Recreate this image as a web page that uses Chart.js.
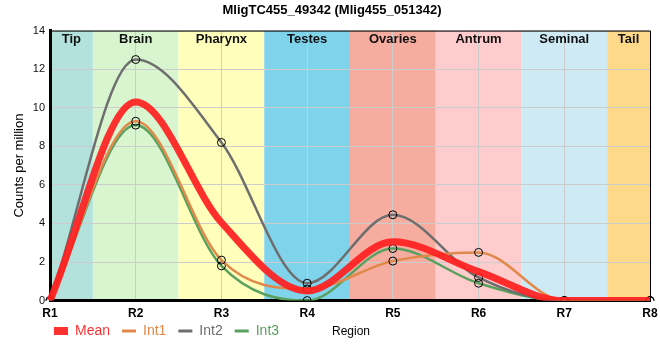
<!DOCTYPE html>
<html>
<head>
<meta charset="utf-8">
<script src="https://cdn.jsdelivr.net/npm/chart.js@4.4.1/dist/chart.umd.min.js"></script>
<style>
  body { margin: 0; background: #fff; }
  #wrap { width: 660px; height: 360px; }
</style>
</head>
<body>
<div id="wrap"><canvas id="myChart"></canvas></div>
<script>
// values
const regions = ['R1', 'R2', 'R3', 'R4', 'R5', 'R6', 'R7', 'R8'];
const bandNames = ['Tip', 'Brain', 'Pharynx', 'Testes', 'Ovaries', 'Antrum', 'Seminal', 'Tail'];
const bandColors = ['#b3e2dd', '#d8f5d0', '#ffffbb', '#7fd3eb', '#f6ada0', '#fecccc', '#ceebf5', '#fed98a'];

const meanVals = [0, 10.3, 4.05, 0.5, 3.05, 1.5, 0, 0];
const int1Vals = [0, 9.3, 2.1, 0.6, 2.05, 2.5, 0, 0];
const int2Vals = [0, 12.5, 8.2, 0.9, 4.45, 1.2, 0, 0];
const int3Vals = [0, 9.1, 1.8, 0, 2.7, 0.9, 0, 0];

const yTicks = [0, 2, 4, 6, 8, 10, 12, 14];

const FONT = 'Arial, "Liberation Sans", sans-serif';

// coloured region bands behind the plot
const bandsPlugin = {
  id: 'bands',
  afterLayout(chart) {
    // legend row sits on the x axis title line, starting under the plot
    const lg = chart.legend;
    lg.left = chart.chartArea.left - 8;
    lg.top -= 15;
    lg.bottom -= 15;
  },
  beforeDraw(chart) {
    const { ctx, chartArea } = chart;
    const x = chart.scales.x;
    ctx.save();
    bandNames.forEach((name, i) => {
      let l = Math.max(chartArea.left, x.getPixelForValue(i - 0.5));
      let r = Math.min(chartArea.right, x.getPixelForValue(i + 0.5));
      ctx.fillStyle = bandColors[i];
      ctx.fillRect(l, chartArea.top, r - l, chartArea.bottom - chartArea.top);
    });
    ctx.restore();
  },
  beforeDatasetsDraw(chart) {
    const { ctx, chartArea } = chart;
    const x = chart.scales.x;
    ctx.save();
    ctx.font = 'bold 13px ' + FONT;
    ctx.fillStyle = '#111';
    ctx.textAlign = 'center';
    ctx.textBaseline = 'top';
    bandNames.forEach((name, i) => {
      let l = Math.max(chartArea.left, x.getPixelForValue(i - 0.5));
      let r = Math.min(chartArea.right, x.getPixelForValue(i + 0.5));
      ctx.fillText(name, (l + r) / 2, chartArea.top + 2);
    });
    // thin frame top and right
    ctx.strokeStyle = '#000';
    ctx.lineWidth = 1;
    ctx.beginPath();
    ctx.moveTo(chartArea.left, chartArea.top + 0.5);
    ctx.lineTo(chartArea.right + 0.5, chartArea.top + 0.5);
    ctx.lineTo(chartArea.right + 0.5, chartArea.bottom);
    ctx.stroke();
    ctx.restore();
  },
  afterDraw(chart) {
    // x axis title
    const { ctx, chartArea } = chart;
    ctx.save();
    ctx.font = '12px ' + FONT;
    ctx.fillStyle = '#000';
    ctx.textAlign = 'center';
    ctx.textBaseline = 'middle';
    ctx.fillText('Region', (chartArea.left + chartArea.right) / 2 + 1, 332);
    ctx.restore();
  }
};

const pointStyle = {
  pointRadius: 4,
  pointHoverRadius: 4,
  pointBorderColor: '#000',
  pointBorderWidth: 1,
  pointBackgroundColor: 'rgba(255,255,255,0)'
};

const data = {
  labels: regions,
  datasets: [
    {
      label: 'Mean',
      data: meanVals,
      borderColor: 'rgba(255,30,30,0.92)',
      borderWidth: 7,
      pointRadius: 0,
      cubicInterpolationMode: 'monotone',
      fill: false
    }, {
      label: 'Int1',
      data: int1Vals,
      borderColor: '#e0894a',
      borderWidth: 2.5,
      cubicInterpolationMode: 'monotone',
      fill: false,
      ...pointStyle
    }, {
      label: 'Int2',
      data: int2Vals,
      borderColor: '#6e6e6e',
      borderWidth: 2.5,
      cubicInterpolationMode: 'monotone',
      fill: false,
      ...pointStyle
    }, {
      label: 'Int3',
      data: int3Vals,
      borderColor: '#5aa05f',
      borderWidth: 2.5,
      cubicInterpolationMode: 'monotone',
      fill: false,
      ...pointStyle
    }
  ]
};

const config = {
  type: 'line',
  data: data,
  plugins: [bandsPlugin],
  options: {
    responsive: true,
    maintainAspectRatio: false,
    animation: false,
    layout: { padding: { left: 4, right: 0, top: 0, bottom: -3 } },
    plugins: {
      title: {
        display: true,
        text: 'MligTC455_49342 (Mlig455_051342)',
        color: '#000',
        font: { family: FONT, size: 13, weight: 'bold' },
        padding: { top: 3, bottom: 12 }
      },
      legend: {
        position: 'bottom',
        align: 'start',
        labels: {
          usePointStyle: true,
          pointStyleWidth: 14,
          padding: 12,
          font: { family: FONT, size: 14 },
          generateLabels(chart) {
            const items = Chart.defaults.plugins.legend.labels.generateLabels(chart);
            return items.map(it => {
              const ds = chart.data.datasets[it.datasetIndex];
              it.pointStyle = 'line';
              it.strokeStyle = ds.borderColor;
              it.lineWidth = ds.borderWidth === 7 ? 8 : 3;
              it.fontColor = ds.borderColor;
              return it;
            });
          }
        }
      },
      tooltip: { enabled: false }
    },
    scales: {
      x: {
        offset: false,
        afterFit(scale) {
          scale.paddingRight = 10;
        },
        grid: { color: '#cccccc', drawTicks: false },
        border: { color: '#000', width: 3 },
        ticks: {
          color: '#000',
          padding: 6,
          autoSkip: false,
          maxRotation: 0,
          font: { family: FONT, size: 12, weight: 'bold' }
        }
      },
      y: {
        min: 0,
        max: 14,
        afterBuildTicks(scale) {
          scale.ticks = yTicks.map(v => ({ value: v }));
        },
        afterFit(scale) { scale.width = 46; },
        grid: { color: '#cccccc', drawTicks: false },
        border: { color: '#000', width: 3 },
        ticks: {
          color: '#111',
          padding: 5,
          font: { family: FONT, size: 11 }
        },
        title: {
          display: true,
          text: 'Counts per million',
          color: '#000',
          font: { family: FONT, size: 13 },
          padding: { top: 8, bottom: 4 }
        }
      }
    }
  }
};

const chart = new Chart(document.getElementById('myChart'), config);
</script>
</body>
</html>
